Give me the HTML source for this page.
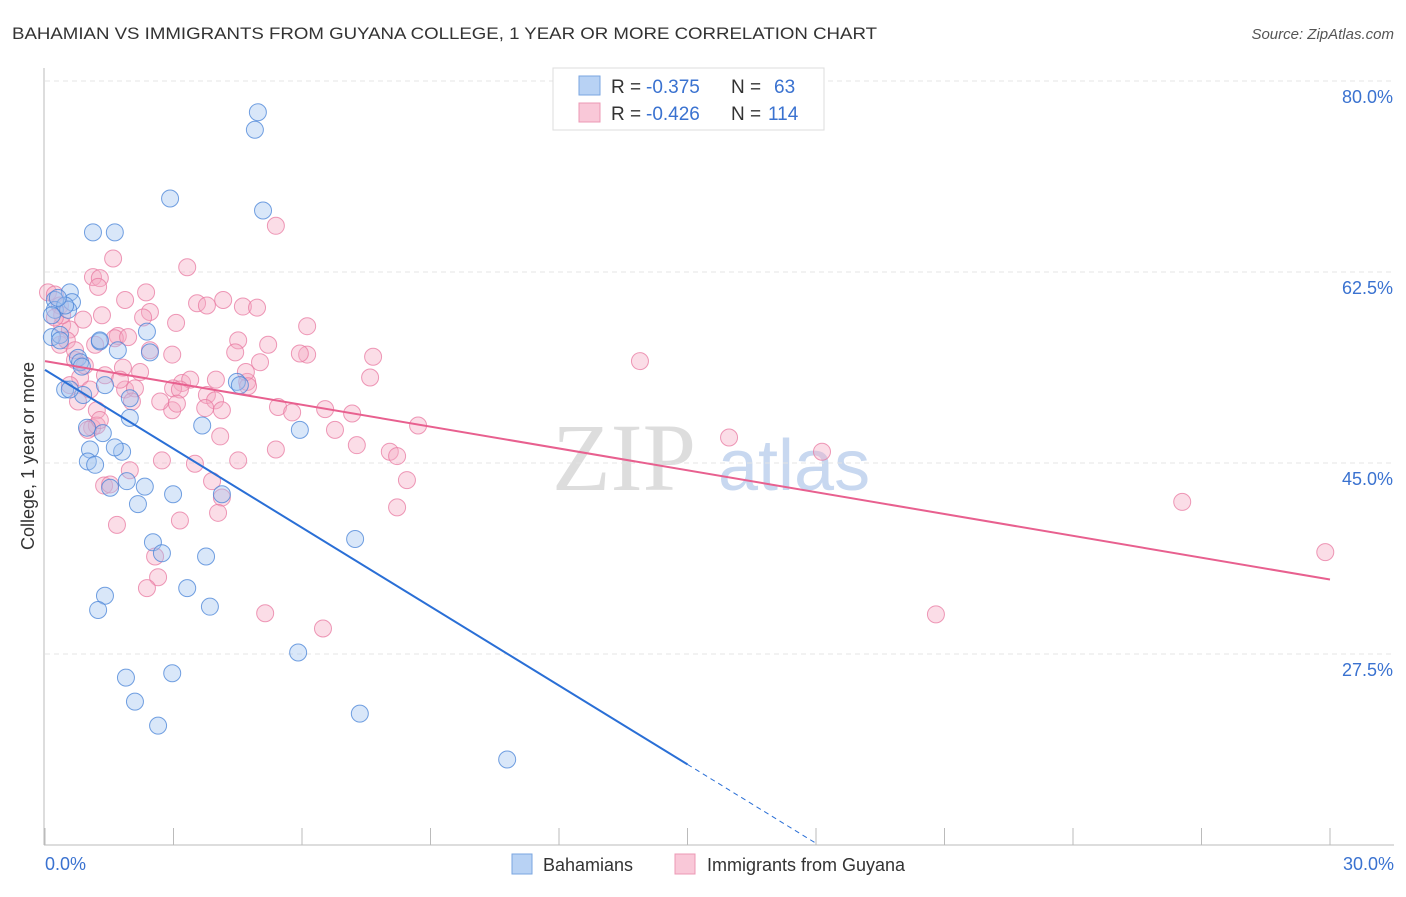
<!DOCTYPE html>
<html><head><meta charset="utf-8"><style>
body{margin:0;background:#fff;font-family:"Liberation Sans",sans-serif}
</style></head><body>
<svg width="1406" height="892" id="svg" xmlns="http://www.w3.org/2000/svg">
<text x="12" y="39" font-size="17" fill="#333" textLength="865" lengthAdjust="spacingAndGlyphs">BAHAMIAN VS IMMIGRANTS FROM GUYANA COLLEGE, 1 YEAR OR MORE CORRELATION CHART</text>
<text x="1394" y="39" font-size="15" fill="#555" font-style="italic" text-anchor="end">Source: ZipAtlas.com</text>
<g><text x="552" y="490" font-size="96" font-family="Liberation Serif,serif" fill="#ddd">ZIP</text><text x="718" y="490" font-size="72" fill="#c8d8f0">atlas</text></g>
<g id="grid"></g><g id="pts"></g><g id="lines"></g>
<text x="34" y="456" font-size="18" fill="#333" transform="rotate(-90 34 456)" text-anchor="middle">College, 1 year or more</text>
<g>
<rect x="553" y="68" width="271" height="62" fill="#fff" stroke="#ddd"/>
<rect x="579" y="76" width="21" height="19" fill="#b8d2f4" stroke="#7aa6e0"/>
<rect x="579" y="103" width="21" height="19" fill="#f9c8d8" stroke="#ec98b4"/>
<text x="611" y="93" font-size="19" fill="#333">R =</text>
<text x="646" y="93" font-size="19" fill="#3a72d0">-0.375</text>
<text x="731" y="93" font-size="19" fill="#333">N =</text>
<text x="774" y="93" font-size="19" fill="#3a72d0">63</text>
<text x="611" y="120" font-size="19" fill="#333">R =</text>
<text x="646" y="120" font-size="19" fill="#3a72d0">-0.426</text>
<text x="731" y="120" font-size="19" fill="#333">N =</text>
<text x="768" y="120" font-size="19" fill="#3a72d0">114</text>
</g>
<g>
<rect x="512" y="854" width="20" height="20" fill="#b8d2f4" stroke="#7aa6e0"/>
<text x="543" y="871" font-size="18" fill="#333">Bahamians</text>
<rect x="675" y="854" width="20" height="20" fill="#f9c8d8" stroke="#ec98b4"/>
<text x="707" y="871" font-size="18" fill="#333">Immigrants from Guyana</text>
</g>
</svg>
<script>
const blueX=[4.97,4.90,2.92,5.09,1.12,1.63,0.58,0.63,0.23,0.23,0.54,0.16,0.35,2.38,1.28,1.70,2.45,0.77,0.82,0.86,0.47,0.89,1.40,1.98,4.48,4.55,1.98,3.67,5.95,1.35,0.98,1.05,1.80,1.63,1.00,1.17,1.52,1.91,2.33,2.99,4.13,2.17,2.52,2.73,7.24,3.76,1.40,3.32,1.24,3.85,5.91,1.89,2.97,2.10,2.64,7.35,10.79,0.47,0.30,0.16,1.28,0.58,0.35];
const blueY=[78.6,77.0,70.7,69.6,67.6,67.6,62.1,61.2,61.4,60.5,60.5,58.0,58.2,58.5,57.6,56.8,56.6,56.1,55.7,55.3,53.2,52.7,53.6,52.4,53.9,53.6,50.6,49.9,49.5,49.2,49.7,47.7,47.5,47.9,46.6,46.3,44.2,44.8,44.3,43.6,43.6,42.7,39.2,38.2,39.5,37.9,34.3,35.0,33.0,33.3,29.1,26.8,27.2,24.6,22.4,23.5,19.3,60.9,61.6,60.0,57.7,53.2,57.7];
const pinkX=[5.39,1.59,3.32,1.12,1.28,1.24,2.36,0.07,0.23,1.87,4.16,3.55,3.78,4.62,4.95,2.45,1.33,2.29,0.89,0.40,0.58,3.06,6.12,4.51,1.70,1.63,1.94,2.45,2.97,6.12,5.95,7.66,13.89,0.35,1.17,0.70,5.02,1.82,0.82,1.40,2.22,3.20,3.39,3.99,4.72,7.59,0.58,1.05,1.87,2.10,2.99,3.15,3.78,3.97,2.03,4.69,4.74,5.44,5.77,6.54,7.17,1.21,2.97,3.08,3.74,4.13,8.71,6.77,1.10,1.21,4.09,7.28,5.39,8.05,8.22,15.97,18.14,2.73,3.50,4.51,1.98,8.45,3.90,1.38,1.52,4.13,26.55,8.22,1.68,4.04,3.15,2.57,2.64,29.89,2.38,5.14,20.80,6.49,0.35,0.40,0.51,0.70,0.93,0.77,1.00,1.28,1.75,5.21,2.69,4.44,0.23];
const pinkY=[68.2,65.2,64.4,63.5,63.4,62.6,62.1,62.1,61.9,61.4,61.4,61.1,60.9,60.8,60.7,60.3,60.0,59.8,59.6,59.1,58.7,59.3,59.0,57.7,58.1,57.9,58.0,56.8,56.4,56.4,56.5,56.2,55.8,57.3,57.3,55.9,55.7,55.2,54.3,54.5,54.8,53.8,54.1,54.1,53.9,54.3,53.6,53.2,53.2,53.3,53.3,53.2,52.7,52.2,52.1,54.8,53.5,51.6,51.1,51.4,51.0,51.3,51.3,51.9,51.5,51.3,49.9,49.5,49.7,49.9,48.9,48.1,47.7,47.5,47.1,48.8,47.5,46.7,46.4,46.7,45.8,44.9,44.8,44.4,44.5,43.3,42.9,42.4,40.8,41.9,41.2,37.9,36.0,38.3,35.0,32.7,32.6,31.3,60.9,60.0,57.7,56.8,55.4,52.1,49.5,50.4,54.1,57.3,52.1,56.6,59.8];
const yTicks=[80,62.5,45,27.5];
const yTickLabels=["80.0%","62.5%","45.0%","27.5%"];
const xTickLabels=["0.0%","30.0%"];
const blueTrend=[55.0,-2.41];
const pinkTrend=[55.8,-0.667];
const X=v=>45+v*42.833, Y=v=>97+(80-v)*10.914;
const NS="http://www.w3.org/2000/svg";
function mk(t,a,p){const e=document.createElementNS(NS,t);for(const k in a)e.setAttribute(k,a[k]);p.appendChild(e);return e;}
const g=document.getElementById('grid');
yTicks.forEach((v,i)=>{
 const l=mk('line',{x1:45,x2:1394,y1:Y(v)-16,y2:Y(v)-16,stroke:'#e4e4e4','stroke-dasharray':'5,4'},g);
 
 
 const t=mk('text',{x:1393,y:Y(v)+6,'font-size':18,fill:'#3a72d0','text-anchor':'end'},g);t.textContent=yTickLabels[i];
 
 
});
const ax=mk('line',{x1:44,x2:44,y1:68,y2:845,stroke:'#bbb'},g);


const bx=mk('line',{x1:44,x2:1394,y1:845,y2:845,stroke:'#bbb'},g);


for(let i=0;i<=10;i++){const v=i*3;const t=mk('line',{x1:X(v),x2:X(v),y1:828,y2:845,stroke:'#bbb'},g);
 
 }
[[0,'start',45],[30,'end',1394]].forEach((d,i)=>{const t=mk('text',{x:d[2],y:870,'font-size':18,fill:'#3a72d0','text-anchor':d[1]},g);t.textContent=xTickLabels[i];
 
 });
const p=document.getElementById('pts');
pinkX.forEach((x,i)=>{const c=mk('circle',{cx:X(x),cy:Y(pinkY[i]),r:8.5,fill:'rgba(244,170,195,0.4)',stroke:'rgba(232,120,160,0.75)','stroke-width':1},p);
 
 });
blueX.forEach((x,i)=>{const c=mk('circle',{cx:X(x),cy:Y(blueY[i]),r:8.5,fill:'rgba(160,195,240,0.4)',stroke:'rgba(70,130,215,0.75)','stroke-width':1},p);
 
 });
const L=document.getElementById('lines');
const bt=v=>blueTrend[0]+blueTrend[1]*v, pt=v=>pinkTrend[0]+pinkTrend[1]*v;
const b1=mk('line',{x1:X(0),y1:Y(bt(0)),x2:X(15),y2:Y(bt(15)),stroke:'#2a6fd6','stroke-width':2},L);


const b2=mk('line',{x1:X(15),y1:Y(bt(15)),x2:X(18),y2:Y(bt(18)),stroke:'#2a6fd6','stroke-width':1,'stroke-dasharray':'5,4'},L);


const p1=mk('line',{x1:X(0),y1:Y(pt(0)),x2:X(30),y2:Y(pt(30)),stroke:'#e8608f','stroke-width':2},L);


</script>
</body></html>
